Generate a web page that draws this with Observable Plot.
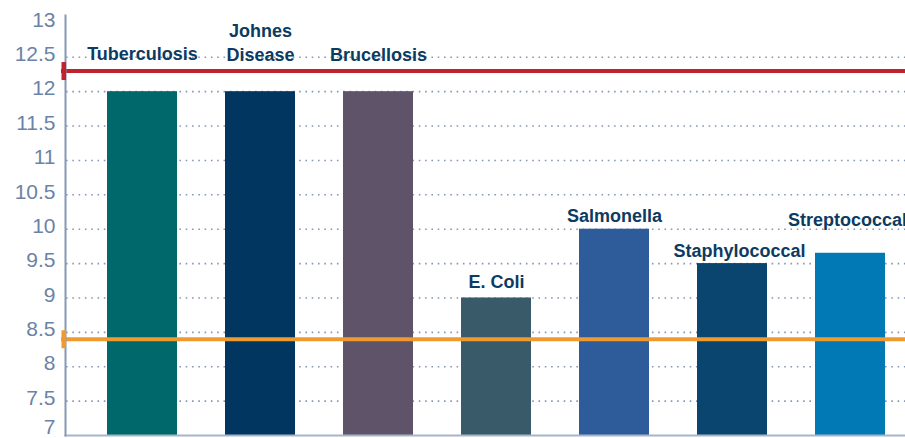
<!DOCTYPE html>
<html>
<head>
<meta charset="utf-8">
<script src="https://cdn.jsdelivr.net/npm/d3@7"></script>
<script src="https://cdn.jsdelivr.net/npm/@observablehq/plot@0.6"></script>
<style>
  html, body { margin: 0; padding: 0; background: #ffffff; }
  svg { display: block; }
</style>
</head>
<body>
<script>
// ---- data ----
const categories = ["Tuberculosis", "Johnes Disease", "Brucellosis", "E. Coli", "Salmonella", "Staphylococcal", "Streptococcal"];
const values = [12, 12, 12, 9, 10, 9.5, 9.65];
const barLabels = ["Tuberculosis", "Johnes\nDisease", "Brucellosis", "E. Coli", "Salmonella", "Staphylococcal", "Streptococcal"];
const labelAt = [12.46, 12.45, 12.45, 9.15, 10.1, 9.59, 10.05];
const labelShift = [0, 0, 0, 0, 0, 7, -3];
const barColors = ["#00676a", "#003660", "#5e5368", "#385a69", "#2e5b99", "#0a456f", "#0079b4"];
const refValues = [12.3, 8.4];
const refColors = ["#c0222f", "#ef9a2e"];
const yTicks = [7.5, 8, 8.5, 9, 9.5, 10, 10.5, 11, 11.5, 12, 12.5, 13];
const yBottomTick = [7];
const gridTicks = [7.5, 8, 8.5, 9, 9.5, 10, 10.5, 11, 11.5, 12, 12.5];

const rows = categories.map((c, i) => ({
  cat: c, value: values[i], label: barLabels[i], at: labelAt[i], shift: labelShift[i], color: barColors[i]
}));
const refs = refValues.map((v, i) => ({value: v, color: refColors[i]}));

const tickSymbol = {
  draw(context) {
    context.moveTo(-4, -9);
    context.lineTo(0.6, -9);
    context.lineTo(0.6, 9);
    context.lineTo(-4, 9);
    context.closePath();
  }
};

const axisStyle = {tickSize: 0, tickPadding: 10, fontSize: 21, color: "#6a83a6", tickFormat: d => String(d)};

const W = 905, H = 438;
const chart = Plot.plot({
  width: W,
  height: H,
  marginLeft: 65,
  marginRight: 0,
  marginTop: 15,
  marginBottom: 3,
  style: {fontFamily: "'Liberation Sans', Arial, sans-serif", background: "#ffffff", overflow: "hidden"},
  x: {type: "band", domain: categories, range: [81.3, 910], paddingInner: 0.41, paddingOuter: 0.205, align: 0.5, axis: null},
  y: {domain: [7, 13], range: [435, 22.4]},
  color: {type: "identity"},
  marks: [
    Plot.gridY(gridTicks, {stroke: "#8598b6", strokeOpacity: 1, strokeWidth: 1.6, strokeDasharray: "1.6 4.7", insetLeft: 1}),
    Plot.barY(rows, {x: "cat", y1: 7, y2: "value", fill: "color"}),
    Plot.ruleY(refs, {y: "value", stroke: "color", strokeWidth: 4, insetLeft: -4}),
    Plot.frame({anchor: "bottom", stroke: "#a5b5cb", strokeWidth: 2}),
    Plot.frame({anchor: "left", stroke: "#8598b6", strokeWidth: 2}),
    Plot.dot(refs, {y: "value", frameAnchor: "left", symbol: tickSymbol, fill: "color", stroke: "none", r: 5}),
    Plot.axisY({ticks: yTicks, dy: -3, ...axisStyle}),
    Plot.axisY({ticks: yBottomTick, dy: -8, ...axisStyle}),
    ...rows.map(r => Plot.text([r], {
      x: "cat", y: "at", text: "label", dx: r.shift,
      lineAnchor: "bottom", lineHeight: 1.333,
      fontSize: 18, fontWeight: "bold", fill: "#0c3b62", textAnchor: "middle"
    }))
  ]
});
document.body.appendChild(chart);
</script>
</body>
</html>
